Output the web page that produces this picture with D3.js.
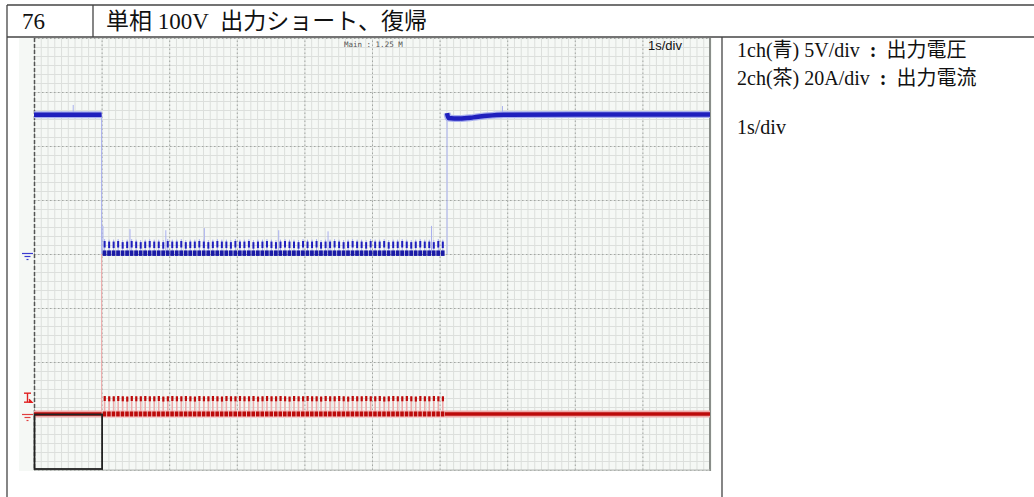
<!DOCTYPE html>
<html>
<head>
<meta charset="utf-8">
<script src="https://cdn.jsdelivr.net/npm/d3@7"></script>
<style>
  body { margin: 0; background: #fff; }
  svg { display: block; }
</style>
</head>
<body>
<svg id="chart" width="1034" height="497"></svg>
<script>
// ---- record header and notes ----
const recordNo = "76";
const recordTitle = "単相 100V\u00a0 出力ショート、復帰";
const noteLines = ["1ch(青) 5V/div：出力電圧", "2ch(茶) 20A/div：出力電流", "1s/div"];
const memoryLabel = "Main : 1.25 M";
const timebaseLabel = "1s/div";

// ---- scope settings ----
const secPerDiv = 1;
const timeDivCount = 10;
const ampDivCount = 8;
const ch1VoltsPerDiv = 5;   // 1ch output voltage
const ch1ZeroDiv = 4;       // ground marker position (div from bottom)
const ch2AmpsPerDiv = 20;   // 2ch output current
const ch2ZeroDiv = 1;
const ch2TriggerLevel = 6.6; // A

// ---- 1ch output voltage (s, V) ----
const ch1Before = [[0, 12.9], [1.0, 12.9]];
const ch1After = [[6.11, 13.05], [6.13, 12.6], [6.3, 12.55], [6.5, 12.65], [6.7, 12.8], [6.95, 12.9], [8.0, 12.92], [10, 12.92]];
const ch1ShortLevel = 0.1;  // V, floor while shorted
const ch1Drop = [1.0, 12.9, 0.0];    // time, from, to
const ch1Rise = [6.11, 0.0, 13.0];
// thin glitches on 1ch (s, V)
const ch1Spikes = [[0.58, 13.8], [1.02, 2.6], [1.42, 2.3], [1.95, 2.2], [2.52, 2.4], [3.62, 2.2], [4.35, 2.1], [5.88, 2.6], [6.93, 13.7]];

// ---- 2ch output current (s, A) ----
const ch2Before = [[0, 0.75], [1.0, 0.75]];
const ch2After = [[6.08, 0.75], [10, 0.75]];
const ch2ShortLevel = 0.75;
const ch2Surge = [1.0, 60];   // inrush spike at short

// ---- hiccup pulses during short ----
const pulseStart = 1.03;   // s
const pulsePeriod = 0.0667; // s
const ch1PulsePeak = [
  1.2, 1.15, 1.15, 1.2, 1.1, 1.15, 1.2, 1.15, 1.1, 1.15,
  1.2, 1.15, 1.15, 1.1, 1.2, 1.15, 1.15, 1.2, 1.1, 1.15,
  1.15, 1.2, 1.15, 1.1, 1.15, 1.2, 1.15, 1.15, 1.1, 1.2,
  1.15, 1.15, 1.2, 1.1, 1.15, 1.15, 1.2, 1.15, 1.1, 1.15,
  1.2, 1.15, 1.15, 1.1, 1.2, 1.15, 1.15, 1.2, 1.1, 1.15,
  1.15, 1.2, 1.15, 1.1, 1.15, 1.2, 1.15, 1.15, 1.1, 1.2,
  1.15, 1.15, 1.2, 1.1, 1.15, 1.15, 1.2, 1.15, 1.1, 1.15,
  1.2, 1.15, 1.15, 1.1, 1.2, 1.15
];
const ch2PulsePeak = [
  7.4, 7.3, 7.3, 7.4, 7.3, 7.2, 7.4, 7.3, 7.3, 7.4,
  7.3, 7.3, 7.4, 7.2, 7.3, 7.4, 7.3, 7.3, 7.4, 7.3,
  7.2, 7.4, 7.3, 7.3, 7.4, 7.3, 7.2, 7.4, 7.3, 7.3,
  7.4, 7.3, 7.3, 7.4, 7.2, 7.3, 7.4, 7.3, 7.3, 7.4,
  7.3, 7.2, 7.4, 7.3, 7.3, 7.4, 7.3, 7.3, 7.2, 7.4,
  7.3, 7.3, 7.4, 7.3, 7.2, 7.4, 7.3, 7.3, 7.4, 7.3,
  7.3, 7.4, 7.2, 7.3, 7.4, 7.3, 7.3, 7.4, 7.3, 7.2,
  7.4, 7.3, 7.3, 7.4, 7.3, 7.3
];

// ---- colours ----
const blueCore = "#1f1fbd", bluePale = "#a9b0ee";
const redCore = "#bc0a0a", redPale = "#eeaaaa";

// ---- layout ----
const svg = d3.select("#chart");
const grid = { x0: 34, x1: 710, y0: 38, y1: 470 };

const x = d3.scaleLinear().domain([0, timeDivCount * secPerDiv]).range([grid.x0, grid.x1]);
const yDiv = d3.scaleLinear().domain([0, ampDivCount]).range([grid.y1, grid.y0]);
const y1 = d3.scaleLinear()
  .domain([-ch1ZeroDiv * ch1VoltsPerDiv, (ampDivCount - ch1ZeroDiv) * ch1VoltsPerDiv])
  .range([grid.y1, grid.y0]);
const y2 = d3.scaleLinear()
  .domain([-ch2ZeroDiv * ch2AmpsPerDiv, (ampDivCount - ch2ZeroDiv) * ch2AmpsPerDiv])
  .range([grid.y1, grid.y0]);

// scope screen background
svg.append("rect").attr("x", 19).attr("y", grid.y0).attr("width", grid.x1 + 2 - 19)
  .attr("height", 471 - grid.y0).attr("fill", "#f5f8f5");

// minor + major grid built from axes
const gGrid = svg.append("g");
const minorX = d3.range(0, timeDivCount * secPerDiv + 1e-9, secPerDiv / 10);
const minorY = d3.range(0, ampDivCount + 1e-9, 1 / 6);
gGrid.append("g").attr("transform", `translate(0,${grid.y1})`)
  .call(d3.axisBottom(x).tickValues(minorX).tickSize(-(grid.y1 - grid.y0)).tickFormat(""))
  .call(g => g.select(".domain").remove())
  .call(g => g.selectAll("line").attr("stroke", "#dcdfdc").attr("stroke-width", 1));
gGrid.append("g").attr("transform", `translate(${grid.x0},0)`)
  .call(d3.axisLeft(yDiv).tickValues(minorY).tickSize(-(grid.x1 - grid.x0)).tickFormat(""))
  .call(g => g.select(".domain").remove())
  .call(g => g.selectAll("line").attr("stroke", "#dcdfdc").attr("stroke-width", 1));
gGrid.append("g").attr("transform", `translate(0,${grid.y1})`)
  .call(d3.axisBottom(x).ticks(timeDivCount).tickSize(-(grid.y1 - grid.y0)).tickFormat(""))
  .call(g => g.select(".domain").remove())
  .call(g => g.selectAll("line").attr("stroke", "#a2a6a2").attr("stroke-dasharray", "1.5,2.5"));
gGrid.append("g").attr("transform", `translate(${grid.x0},0)`)
  .call(d3.axisLeft(yDiv).ticks(ampDivCount).tickSize(-(grid.x1 - grid.x0)).tickFormat(""))
  .call(g => g.select(".domain").remove())
  .call(g => g.selectAll("line").attr("stroke", "#a2a6a2").attr("stroke-dasharray", "1.5,2.5"));

// screen edges
svg.append("line").attr("x1", grid.x0 + 0.5).attr("x2", grid.x0 + 0.5).attr("y1", grid.y0).attr("y2", grid.y1)
  .attr("stroke", "#555").attr("stroke-width", 1.5).attr("stroke-dasharray", "4,2");
svg.append("line").attr("x1", grid.x1).attr("x2", grid.x1).attr("y1", grid.y0).attr("y2", grid.y1 + 1)
  .attr("stroke", "#8a8e8a").attr("stroke-width", 2);
svg.append("line").attr("x1", grid.x0).attr("x2", grid.x1).attr("y1", grid.y1).attr("y2", grid.y1)
  .attr("stroke", "#b5b9b5").attr("stroke-width", 1);

// screen annotations
svg.append("text").attr("x", 344).attr("y", 47).text(memoryLabel)
  .attr("font-family", "DejaVu Sans Mono").attr("font-size", 7.5).attr("fill", "#555");
svg.append("text").attr("x", 648).attr("y", 50).text(timebaseLabel)
  .attr("font-family", "Liberation Sans").attr("font-size", 13).attr("fill", "#111");

const line1 = d3.line().x(d => x(d[0])).y(d => y1(d[1])).curve(d3.curveMonotoneX);
const line2 = d3.line().x(d => x(d[0])).y(d => y2(d[1]));
const pulseT = (d, i) => pulseStart + i * pulsePeriod;
const tEnd = pulseStart + (ch1PulsePeak.length - 1) * pulsePeriod;

// ---- 2ch current ----
const g2 = svg.append("g");
// surge at the moment of short
g2.append("line").attr("x1", x(ch2Surge[0])).attr("x2", x(ch2Surge[0]))
  .attr("y1", y2(ch2Surge[1])).attr("y2", y2(ch2ShortLevel))
  .attr("stroke", redPale).attr("stroke-width", 1);
// soft halo under the pulse train
g2.append("rect").attr("x", x(pulseStart) - 1).attr("y", y2(ch2ShortLevel) - 4)
  .attr("width", x(tEnd) - x(pulseStart) + 4).attr("height", 8)
  .attr("fill", "#f6cfcf");
[ch2Before, ch2After].forEach(seg => {
  g2.append("path").attr("d", line2(seg)).attr("fill", "none")
    .attr("stroke", redPale).attr("stroke-width", 7);
  g2.append("path").attr("d", line2(seg)).attr("fill", "none")
    .attr("stroke", redCore).attr("stroke-width", 3.5);
});
const p2 = g2.selectAll("g.pulse").data(ch2PulsePeak).join("g").attr("class", "pulse");
p2.append("line")
  .attr("x1", (d, i) => x(pulseT(d, i)) + 1).attr("x2", (d, i) => x(pulseT(d, i)) + 1)
  .attr("y1", d => y2(d)).attr("y2", y2(ch2ShortLevel))
  .attr("stroke", redPale).attr("stroke-width", 1.6);
p2.append("rect")
  .attr("x", (d, i) => x(pulseT(d, i))).attr("y", d => y2(d))
  .attr("width", 2.2).attr("height", 5).attr("fill", redCore);
p2.append("rect")
  .attr("x", (d, i) => x(pulseT(d, i)) - 1).attr("y", y2(ch2ShortLevel) - 2.5)
  .attr("width", 3.6).attr("height", 5).attr("fill", redCore);

// ---- 1ch voltage ----
const g1 = svg.append("g");
// transitions
[ch1Drop, ch1Rise].forEach(tr => {
  g1.append("line").attr("x1", x(tr[0])).attr("x2", x(tr[0]))
    .attr("y1", y1(tr[1])).attr("y2", y1(tr[2]))
    .attr("stroke", bluePale).attr("stroke-width", 1);
});
// glitches
g1.selectAll("line.spike").data(ch1Spikes).join("line").attr("class", "spike")
  .attr("x1", d => x(d[0])).attr("x2", d => x(d[0]))
  .attr("y1", d => y1(d[1])).attr("y2", d => y1(d[1] > 5 ? 12.9 : ch1ShortLevel))
  .attr("stroke", bluePale).attr("stroke-width", 1);
[ch1Before, ch1After].forEach(seg => {
  g1.append("path").attr("d", line1(seg)).attr("fill", "none")
    .attr("stroke", bluePale).attr("stroke-width", 7);
  g1.append("path").attr("d", line1(seg)).attr("fill", "none")
    .attr("stroke", blueCore).attr("stroke-width", 4.5);
});
const p1 = g1.selectAll("g.pulse").data(ch1PulsePeak).join("g").attr("class", "pulse");
p1.append("line")
  .attr("x1", (d, i) => x(pulseT(d, i)) + 1).attr("x2", (d, i) => x(pulseT(d, i)) + 1)
  .attr("y1", d => y1(d) - 2).attr("y2", y1(ch1ShortLevel) + 3)
  .attr("stroke", bluePale).attr("stroke-width", 1);
p1.append("rect")
  .attr("x", (d, i) => x(pulseT(d, i))).attr("y", d => y1(d))
  .attr("width", 2).attr("height", 6.5).attr("fill", blueCore);
p1.append("rect")
  .attr("x", (d, i) => x(pulseT(d, i)) - 1).attr("y", y1(ch1ShortLevel) - 2.5)
  .attr("width", 3.8).attr("height", 5.5).attr("fill", "#1a1aa6");

// ---- channel markers on the left of the screen ----
function groundMark(yPos, color) {
  const g = svg.append("g").attr("stroke", color).attr("stroke-width", 1.2);
  g.append("line").attr("x1", 22).attr("x2", 33).attr("y1", yPos).attr("y2", yPos);
  g.append("line").attr("x1", 24.5).attr("x2", 30.5).attr("y1", yPos + 3).attr("y2", yPos + 3);
  g.append("line").attr("x1", 26.5).attr("x2", 28.5).attr("y1", yPos + 6).attr("y2", yPos + 6);
}
groundMark(y1(0) - 0.5, "#3a3ad0");
groundMark(y2(0) - 1.5, "#e04040");
// 2ch trigger level marker
const trgY = y2(ch2TriggerLevel);
const trg = svg.append("g").attr("stroke", "#e02020").attr("stroke-width", 1.4).attr("fill", "none");
trg.append("line").attr("x1", 24).attr("x2", 31).attr("y1", trgY - 5).attr("y2", trgY - 5);
trg.append("line").attr("x1", 27.5).attr("x2", 27.5).attr("y1", trgY - 5).attr("y2", trgY + 4);
trg.append("line").attr("x1", 24).attr("x2", 32).attr("y1", trgY + 4).attr("y2", trgY + 4);
trg.append("path").attr("d", `M${29},${trgY + 1} L${32},${trgY + 4} L${29},${trgY + 4}`).attr("fill", "#e02020");

// zoom-window box at the lower left
svg.append("rect").attr("x", x(0) + 0.5).attr("y", y2(0) - 1.5)
  .attr("width", x(secPerDiv) - x(0)).attr("height", grid.y1 - y2(0) + 0.5)
  .attr("fill", "none").attr("stroke", "#222").attr("stroke-width", 1.8);

// ---- table frame ----
const frame = svg.append("g").attr("stroke", "#444").attr("stroke-width", 1.3);
frame.append("line").attr("x1", 7).attr("x2", 1034).attr("y1", 5).attr("y2", 5);
frame.append("line").attr("x1", 7).attr("x2", 1034).attr("y1", 37).attr("y2", 37);
frame.append("line").attr("x1", 7).attr("x2", 7).attr("y1", 5).attr("y2", 497);
frame.append("line").attr("x1", 93).attr("x2", 93).attr("y1", 5).attr("y2", 37);
frame.append("line").attr("x1", 722).attr("x2", 722).attr("y1", 37).attr("y2", 497);

const serif = "'Liberation Serif', 'Noto Sans CJK JP', serif";
svg.append("text").attr("x", 22).attr("y", 29).text(recordNo)
  .attr("font-family", serif).attr("font-size", 23).attr("fill", "#111");
svg.append("text").attr("x", 106).attr("y", 29).text(recordTitle)
  .attr("font-family", serif).attr("font-size", 23).attr("fill", "#111");

// notes: the full-width colon is set as a centred separator between label and meaning
const noteY = [57, 84.5, 134];
const notes = svg.selectAll("text.note").data(noteLines).join("text").attr("class", "note")
  .attr("x", 737).attr("y", (d, i) => noteY[i])
  .attr("font-family", serif).attr("font-size", 20).attr("fill", "#111");
notes.each(function (d) {
  const parts = d.split("：");
  const t = d3.select(this);
  t.append("tspan").text(parts[0]);
  if (parts.length > 1) {
    t.append("tspan").attr("dx", 10).attr("font-weight", "bold").text(":");
    t.append("tspan").attr("dx", 10).text(parts[1]);
  }
});
</script>
</body>
</html>
